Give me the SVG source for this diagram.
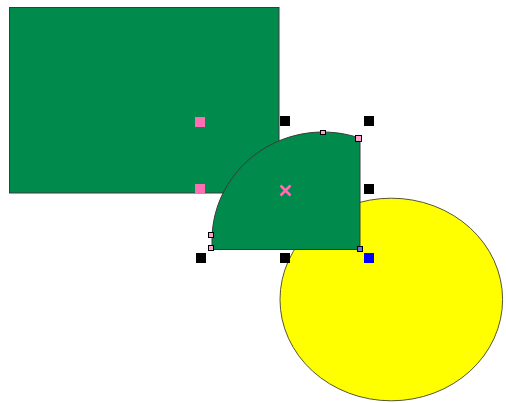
<svg xmlns="http://www.w3.org/2000/svg" width="506" height="403" viewBox="0 0 506 403">
<style>
.green{fill:#008A4B;stroke:#3a3a3a;stroke-width:1}
.yellow{fill:#FFFF00;stroke:#555533;stroke-width:1}
.pink{fill:#FF6EB4}
.blk{fill:#000}
.blu{fill:#0000FF}
.hnd{fill:#FF9ECF;stroke:#000;stroke-width:1}
.cross{stroke:#FF6EB4;stroke-width:2.5;fill:none}
</style>
<rect width="506" height="403" fill="#fff"/>
<g id="rectangle">
<rect class="green" x="9.5" y="7.5" width="269.5" height="185.5"/>
</g>
<g id="ellipse">
<ellipse class="yellow" cx="391.3" cy="299.5" rx="111.3" ry="101.3"/>
</g>
<g id="sector">
<path class="green" d="M212,249.5 L212,240 A111,108 0 0 1 360,138.2 L360,249.5 Z"/>
</g>
<g id="handles">
<rect class="pink" x="195" y="117" width="10" height="10"/>
<rect class="pink" x="195" y="184" width="10" height="10"/>
<rect class="blk" x="280" y="116" width="10" height="10"/>
<rect class="blk" x="364" y="116" width="10" height="10"/>
<rect class="blk" x="364" y="184" width="10" height="10"/>
<rect class="blk" x="196" y="253" width="10" height="10"/>
<rect class="blk" x="280" y="253" width="10" height="10"/>
<rect class="blu" x="364" y="253" width="10" height="10"/>
<rect class="hnd" x="320.5" y="130.5" width="5" height="4"/>
<rect class="hnd" x="355.5" y="135.5" width="6" height="6"/>
<rect class="hnd" x="208.5" y="232.5" width="5" height="5"/>
<rect class="hnd" x="208.5" y="245.5" width="5" height="5"/>
<rect class="hnd" x="357.5" y="246.5" width="5" height="5" style="fill:#7070E0"/>
<path class="cross" d="M280.5,185.5 L290.5,195.5 M290.5,185.5 L280.5,195.5"/>
</g>
</svg>
